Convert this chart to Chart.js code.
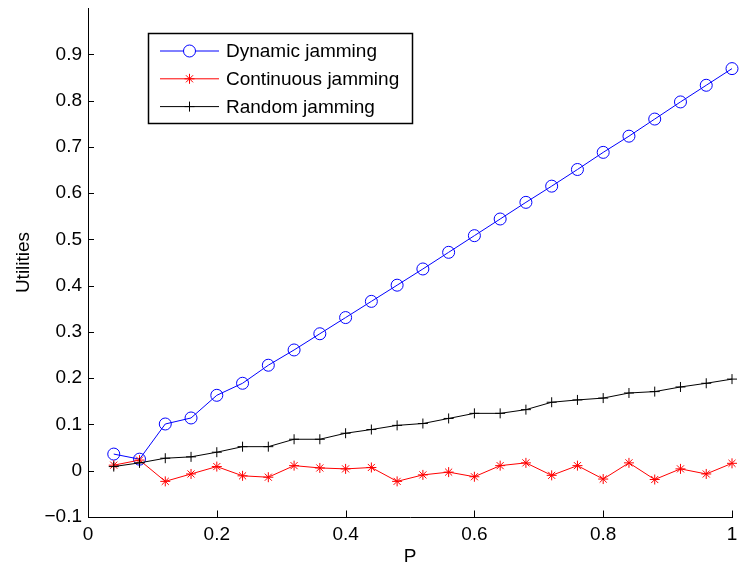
<!DOCTYPE html>
<html>
<head>
<meta charset="utf-8">
<title>Utilities vs P</title>
<script src="https://cdn.jsdelivr.net/npm/chart.js@4/dist/chart.umd.min.js"></script>
<style>
  html, body { margin: 0; padding: 0; background: #fff; }
  #wrap { width: 739px; height: 568px; }
</style>
</head>
<body>
<div id="wrap"><canvas id="c" width="739" height="568"></canvas></div>
<script>
// Jamming probability P
const pValues = [0.04, 0.08, 0.12, 0.16, 0.20, 0.24, 0.28, 0.32, 0.36, 0.40, 0.44, 0.48, 0.52,
                 0.56, 0.60, 0.64, 0.68, 0.72, 0.76, 0.80, 0.84, 0.88, 0.92, 0.96, 1.00];

// Utility per strategy
const dynamicJamming = [0.036, 0.025, 0.101, 0.114, 0.163, 0.189, 0.228, 0.261, 0.296, 0.331, 0.366, 0.401, 0.436,
                        0.472, 0.508, 0.544, 0.580, 0.615, 0.651, 0.688, 0.723, 0.760, 0.797, 0.833, 0.869];
const continuousJamming = [0.012, 0.023, -0.023, -0.007, 0.009, -0.011, -0.014, 0.011, 0.006, 0.004, 0.007, -0.023, -0.009,
                           -0.003, -0.013, 0.011, 0.017, -0.010, 0.011, -0.018, 0.017, -0.019, 0.004, -0.007, 0.016];
const randomJamming = [0.009, 0.017, 0.027, 0.030, 0.040, 0.052, 0.052, 0.068, 0.068, 0.081, 0.089, 0.098, 0.102,
                       0.113, 0.124, 0.124, 0.132, 0.148, 0.153, 0.157, 0.168, 0.171, 0.181, 0.189, 0.198];

const seriesNames = ['Dynamic jamming', 'Continuous jamming', 'Random jamming'];

// Axis ticks
const xTicks = [0, 0.2, 0.4, 0.6, 0.8, 1];
const yTicks = [-0.1, 0, 0.1, 0.2, 0.3, 0.4, 0.5, 0.6, 0.7, 0.8, 0.9];

const FONT = "'Liberation Sans', Arial, Helvetica, sans-serif";
Chart.defaults.font.family = FONT;
Chart.defaults.font.size = 19;
Chart.defaults.color = '#000';

const toPoints = ys => ys.map((y, i) => ({ x: pValues[i], y }));

function fmt(v) {
  const r = Math.round(v * 10) / 10;
  return String(r).replace('-', '\u2212');
}

// Short inward tick marks on the left and bottom axes
const innerTicks = {
  id: 'innerTicks',
  afterDraw(chart) {
    const { ctx, chartArea: a } = chart;
    const xs = chart.scales.x, ys = chart.scales.y;
    ctx.save();
    ctx.strokeStyle = '#000';
    ctx.lineWidth = 1;
    ctx.beginPath();
    xTicks.forEach(v => {
      const px = Math.round(xs.getPixelForValue(v)) + 0.5;
      ctx.moveTo(px, a.bottom);
      ctx.lineTo(px, a.bottom - 6.5);
    });
    yTicks.forEach(v => {
      const py = Math.round(ys.getPixelForValue(v)) + 0.5;
      ctx.moveTo(a.left, py);
      ctx.lineTo(a.left + 6, py);
    });
    ctx.stroke();
    ctx.restore();
  }
};

// Boxed legend with a line sample and marker for each series
const lineLegend = {
  id: 'lineLegend',
  afterDraw(chart) {
    const { ctx, chartArea: a } = chart;
    const left = a.left + 60, top = a.top + 25, w = 264, h = 90;
    ctx.save();
    ctx.fillStyle = '#fff';
    ctx.fillRect(left, top, w, h);
    ctx.strokeStyle = '#000';
    ctx.lineWidth = 1.5;
    ctx.strokeRect(left + 0.5, top + 0.5, w, h);
    ctx.font = '19px ' + FONT;
    ctx.textBaseline = 'middle';
    ctx.textAlign = 'left';
    chart.data.datasets.forEach((ds, i) => {
      const cy = top + 18 + i * 27.8;
      ctx.strokeStyle = ds.borderColor;
      ctx.lineWidth = 1;
      ctx.beginPath();
      ctx.moveTo(left + 12, cy);
      ctx.lineTo(left + 71, cy);
      ctx.stroke();
      Chart.helpers.drawPoint(ctx, {
        pointStyle: ds.pointStyle,
        radius: ds.pointRadius,
        rotation: 0,
        borderWidth: 1
      }, left + 41.5, cy);
      ctx.fillStyle = '#000';
      ctx.fillText(ds.label, left + 78, cy + 1);
    });
    ctx.restore();
  }
};

new Chart(document.getElementById('c'), {
  type: 'line',
  data: {
    datasets: [
      {
        label: seriesNames[0], data: toPoints(dynamicJamming),
        borderColor: '#0000ff', backgroundColor: 'rgba(0,0,0,0)', borderWidth: 1,
        pointStyle: 'circle', pointRadius: 6, pointBorderColor: '#0000ff',
        pointBackgroundColor: 'rgba(0,0,0,0)', pointBorderWidth: 1, order: 2, clip: false
      },
      {
        label: seriesNames[1], data: toPoints(continuousJamming),
        borderColor: '#ff0000', backgroundColor: 'rgba(0,0,0,0)', borderWidth: 1,
        pointStyle: 'star', pointRadius: 5, pointBorderColor: '#ff0000',
        pointBackgroundColor: 'rgba(0,0,0,0)', pointBorderWidth: 1, order: 1, clip: false
      },
      {
        label: seriesNames[2], data: toPoints(randomJamming),
        borderColor: '#000000', backgroundColor: 'rgba(0,0,0,0)', borderWidth: 1,
        pointStyle: 'cross', pointRadius: 5, pointBorderColor: '#000000',
        pointBackgroundColor: 'rgba(0,0,0,0)', pointBorderWidth: 1, order: 0, clip: false
      }
    ]
  },
  options: {
    responsive: false,
    animation: false,
    devicePixelRatio: 1,
    layout: { padding: { top: 8, right: 4, left: 0, bottom: 0 } },
    plugins: { legend: { display: false }, tooltip: { enabled: false } },
    elements: { line: { tension: 0 } },
    scales: {
      x: {
        type: 'linear', min: 0, max: 1,
        afterBuildTicks: s => { s.ticks = xTicks.map(v => ({ value: v })); },
        ticks: { padding: 6, callback: v => fmt(v), maxRotation: 0, font: { size: 19 } },
        grid: { display: false, drawTicks: false },
        border: { display: true, color: '#000', width: 1 },
        title: { display: true, text: 'P', padding: { top: 0, bottom: 0 }, font: { size: 19 } },
        afterFit: s => { s.height = 51; s.paddingLeft = 0; s.paddingRight = 0; }
      },
      y: {
        type: 'linear', min: -0.1, max: 1.0,
        afterBuildTicks: s => { s.ticks = yTicks.map(v => ({ value: v })); },
        ticks: { padding: 6, callback: v => fmt(v), font: { size: 19 } },
        grid: { display: false, drawTicks: false },
        border: { display: true, color: '#000', width: 1 },
        title: { display: true, text: 'Utilities', padding: { top: 12, bottom: 0 }, font: { size: 19 } },
        afterFit: s => { s.width = 88; s.paddingTop = 0; s.paddingBottom = 0; }
      }
    }
  },
  plugins: [innerTicks, lineLegend]
});
</script>
</body>
</html>
